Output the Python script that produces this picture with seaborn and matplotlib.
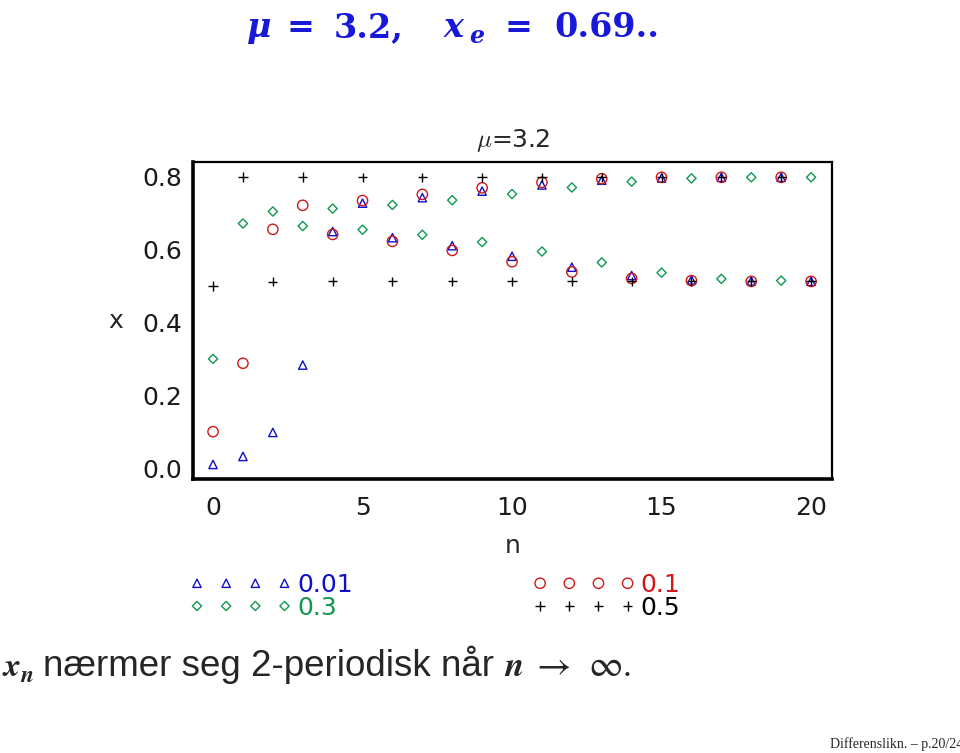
import matplotlib
matplotlib.use("Agg")
import matplotlib.pyplot as plt
import seaborn as sns

# ---- data ----
n_values = list(range(21))
x_start_001 = [0.010, 0.032, 0.098, 0.283, 0.650, 0.728, 0.633, 0.743, 0.611, 0.761, 0.582,
               0.778, 0.552, 0.791, 0.529, 0.797, 0.517, 0.799, 0.514, 0.799, 0.513]
x_start_01 = [0.100, 0.288, 0.656, 0.722, 0.642, 0.735, 0.623, 0.752, 0.598, 0.770, 0.567,
              0.785, 0.539, 0.795, 0.521, 0.799, 0.515, 0.799, 0.513, 0.799, 0.513]
x_start_03 = [0.300, 0.672, 0.705, 0.665, 0.713, 0.655, 0.723, 0.641, 0.736, 0.621, 0.753,
              0.595, 0.771, 0.565, 0.787, 0.537, 0.796, 0.520, 0.799, 0.515, 0.799]
x_start_05 = [0.500, 0.800, 0.512, 0.800, 0.513, 0.799, 0.513, 0.799, 0.513, 0.799, 0.513,
              0.799, 0.513, 0.799, 0.513, 0.799, 0.513, 0.799, 0.513, 0.799, 0.513]
series_labels = ["0.01", "0.1", "0.3", "0.5"]
x_ticks = [0, 5, 10, 15, 20]
y_ticks = [0.0, 0.2, 0.4, 0.6, 0.8]
y_tick_labels = ["0.0", "0.2", "0.4", "0.6", "0.8"]
y_minor = [0.1, 0.3, 0.5, 0.7]

series_values = [x_start_001, x_start_01, x_start_03, x_start_05]
series_colors = ["#1010c8", "#d01818", "#109850", "#000000"]
series_markers = ["^", "o", "D", "+"]
marker_sizes = {"^": 36, "o": 55, "D": 22, "+": 45}

sns.set_style("white")
plt.rcParams["font.family"] = ["DejaVu Sans"]
plt.rcParams["mathtext.fontset"] = "cm"

W, H = 960, 753
fig = plt.figure(figsize=(W / 100, H / 100), dpi=100)
ax = fig.add_axes([193 / W, 1 - 479 / H, 639 / W, 317 / H])

handles = {}
for vals, lab, col, mk in zip(series_values, series_labels, series_colors, series_markers):
    sns.scatterplot(x=n_values, y=vals, ax=ax, marker=mk, s=marker_sizes[mk],
                    color=col, linewidth=1.0, legend=False, zorder=3)
    coll = ax.collections[-1]
    coll.set_facecolor("none")
    coll.set_edgecolor(col)
    coll.set_linewidth(1.0)
    coll.set_label(lab)
    handles[lab] = (coll, col)

ax.set_xlim(-0.67, 20.7)
ax.set_ylim(-0.03, 0.841)
ax.set_xticks(x_ticks)
ax.set_xticklabels([str(t) for t in x_ticks])
ax.set_yticks(y_ticks)
ax.set_yticklabels(y_tick_labels)
ax.set_yticks(y_minor, minor=True)
ax.tick_params(axis="both", which="both", direction="in", length=8, width=1.2,
               color="black", labelsize=18, labelcolor="#1a1a1a")
ax.tick_params(axis="x", which="major", pad=12)
ax.tick_params(axis="y", which="major", pad=8)
for side in ["left", "bottom"]:
    ax.spines[side].set_linewidth(2.6)
    ax.spines[side].set_color("black")
for side in ["top", "right"]:
    ax.spines[side].set_linewidth(1.6)
    ax.spines[side].set_color("black")

ax.set_title(r"$\mu$=3.2", fontsize=18, pad=11)
ax.set_xlabel("n", fontsize=18)
ax.xaxis.set_label_coords(0.5, -0.211)
ax.xaxis.label.set_va("center")
ax.set_ylabel("x", fontsize=18, rotation=0)
ax.yaxis.set_label_coords(-0.1205, 0.5)
ax.yaxis.label.set_va("center")
ax.yaxis.label.set_ha("center")

# legend: column 1 = 0.01, 0.3 ; column 2 = 0.1, 0.5
legend_order = ["0.01", "0.3", "0.1", "0.5"]
fig.legend([handles[k][0] for k in legend_order], legend_order, ncol=2, loc="upper left",
           bbox_to_anchor=(189.5 / W, 1 - 573 / H), bbox_transform=fig.transFigure,
           frameon=False, scatterpoints=4, scatteryoffsets=[0.5], handlelength=4.1,
           handletextpad=0.2, columnspacing=7.2, labelspacing=-0.05, borderpad=0,
           borderaxespad=0, fontsize=18, labelcolor=[handles[k][1] for k in legend_order])


def place(txt, px, py, **kw):
    fig.text(px / W, 1 - py / H, txt, ha="left", va="baseline", **kw)


# title pieces (bold serif, blue)
title_kw = dict(color="#1818d8", fontweight="bold", family=["DejaVu Serif"])
place("μ", 247, 37, fontsize=24, fontstyle="italic", **title_kw)
place("=", 286, 37, fontsize=24, **title_kw)
place("3.2,", 334, 37, fontsize=24, **title_kw)
place("x", 444, 37, fontsize=24, fontstyle="italic", **title_kw)
place("e", 469, 43, fontsize=17, fontstyle="italic", **title_kw)
place("=", 505, 37, fontsize=24, **title_kw)
place("0.69..", 554, 37, fontsize=24, **title_kw)

# bottom sentence
place("x", 4, 676, fontsize=24, fontstyle="italic", fontweight="bold",
      family=["STIXGeneral", "DejaVu Serif"])
place("n", 20, 682, fontsize=17, fontstyle="italic", fontweight="bold",
      family=["STIXGeneral", "DejaVu Serif"])
place("nærmer seg 2-periodisk når", 43, 676, fontsize=26.5,
      family=["Liberation Sans", "DejaVu Sans"])
place("n", 504, 676, fontsize=25, fontstyle="italic", fontweight="bold",
      family=["STIXGeneral", "DejaVu Serif"])
place("→", 536, 676, fontsize=27, family=["STIXGeneral", "DejaVu Sans"])
place("∞.", 588, 676, fontsize=27, family=["STIXGeneral", "DejaVu Sans"])

place("Differenslikn. – p.20/24", 830, 748, fontsize=10,
      family=["Liberation Serif", "DejaVu Serif"])

fig.savefig("out.png", dpi=100)
